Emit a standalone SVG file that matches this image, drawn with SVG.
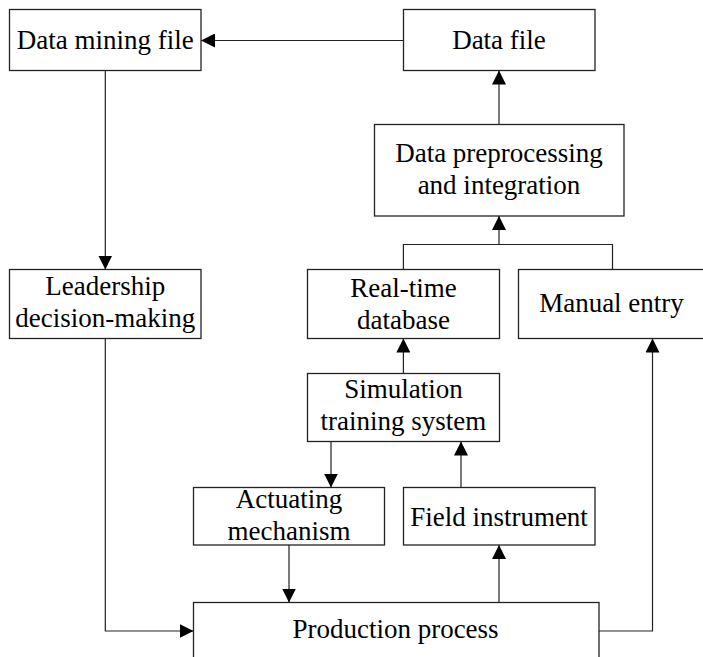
<svg xmlns="http://www.w3.org/2000/svg" width="703" height="657" viewBox="0 0 703 657">
<style>
.box{fill:#fff;stroke:#222;stroke-width:1.3}
.t{font-family:"Liberation Serif","Times New Roman",serif;font-size:27px;fill:#000;text-anchor:middle}
.c{fill:none;stroke:#222;stroke-width:1.2}
</style>
<defs>
<marker id="ah" viewBox="0 0 14 14" refX="14" refY="7" markerWidth="14" markerHeight="14" markerUnits="userSpaceOnUse" orient="auto">
<path d="M0,0 L14,7 L0,14 Z" fill="#000"/>
</marker>
</defs>
<rect width="703" height="657" fill="#fff"/>
<g id="connectors">
<path class="c" d="M403.5,40.5 H201" marker-end="url(#ah)"/>
<path class="c" d="M499,124.5 V70.5" marker-end="url(#ah)"/>
<path class="c" d="M403.4,269.5 V244.5 H612.5 V269.5"/>
<path class="c" d="M499,244.5 V216" marker-end="url(#ah)"/>
<path class="c" d="M105.3,70.5 V269.5" marker-end="url(#ah)"/>
<path class="c" d="M403.4,373.5 V338.5" marker-end="url(#ah)"/>
<path class="c" d="M331,441.5 V487.5" marker-end="url(#ah)"/>
<path class="c" d="M461,487.5 V441.5" marker-end="url(#ah)"/>
<path class="c" d="M289,545 V602.5" marker-end="url(#ah)"/>
<path class="c" d="M499,602.5 V545" marker-end="url(#ah)"/>
<path class="c" d="M105.3,338.5 V631 H193.5" marker-end="url(#ah)"/>
<path class="c" d="M599,631 H652.5 V338.5" marker-end="url(#ah)"/>
</g>
<g id="data-mining-file">
<rect class="box" x="9.5" y="9.5" width="191.5" height="61"/>
<text class="t" x="105.3" y="49">Data mining file</text>
</g>
<g id="data-file">
<rect class="box" x="403.5" y="9.5" width="191.5" height="61"/>
<text class="t" x="499" y="49">Data file</text>
</g>
<g id="data-preprocessing">
<rect class="box" x="374.5" y="124.5" width="249.5" height="91.5"/>
<text class="t" x="499" y="162">Data preprocessing</text>
<text class="t" x="499" y="194">and integration</text>
</g>
<g id="leadership">
<rect class="box" x="9.5" y="269.5" width="191.5" height="69"/>
<text class="t" x="105.3" y="295">Leadership</text>
<text class="t" x="105.3" y="326.7">decision-making</text>
</g>
<g id="real-time-database">
<rect class="box" x="307.5" y="269.5" width="192" height="69"/>
<text class="t" x="403.4" y="296.7">Real-time</text>
<text class="t" x="403.4" y="329">database</text>
</g>
<g id="manual-entry">
<rect class="box" x="518.5" y="269.5" width="186" height="69"/>
<text class="t" x="611.5" y="311.7">Manual entry</text>
</g>
<g id="simulation">
<rect class="box" x="307.5" y="373.5" width="192" height="68"/>
<text class="t" x="403.4" y="398.3">Simulation</text>
<text class="t" x="403.4" y="430">training system</text>
</g>
<g id="actuating">
<rect class="box" x="193.5" y="487.5" width="191" height="57.5"/>
<text class="t" x="289" y="507.7">Actuating</text>
<text class="t" x="289" y="540">mechanism</text>
</g>
<g id="field-instrument">
<rect class="box" x="403.5" y="487.5" width="191.5" height="57.5"/>
<text class="t" x="499" y="525.5">Field instrument</text>
</g>
<g id="production">
<rect class="box" x="193.5" y="602.5" width="405.5" height="70"/>
<text class="t" x="395.5" y="638.3">Production process</text>
</g>
</svg>
